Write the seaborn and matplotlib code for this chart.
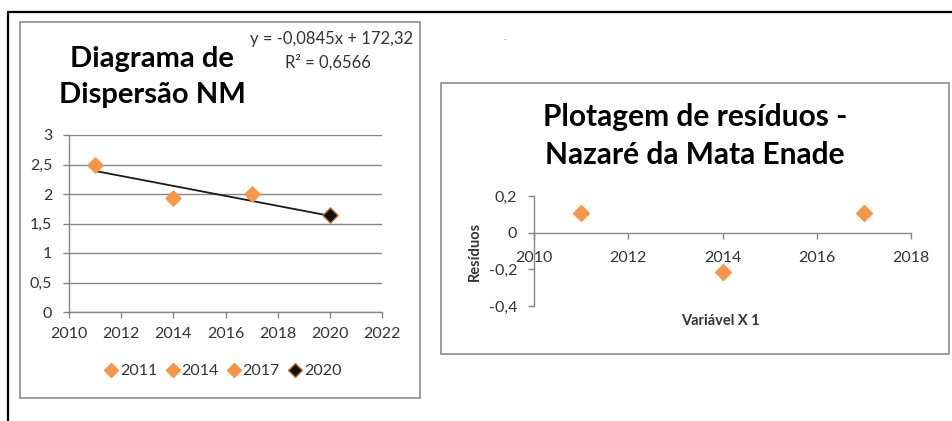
import matplotlib
matplotlib.use("Agg")
import matplotlib.pyplot as plt
from matplotlib.patches import Rectangle
from matplotlib.lines import Line2D
from matplotlib.ticker import FuncFormatter
import seaborn as sns
import pandas as pd
import numpy as np

# ---- data ----
years = [2011, 2014, 2017, 2020]
notas = [2.50, 1.93, 2.00, 1.65]
year_labels = ["2011", "2014", "2017", "2020"]
trend_slope = -0.0845
trend_intercept = 172.32
eq_text = "y = -0,0845x + 172,32"
r2_text = "R² = 0,6566"

res_years = [2011, 2014, 2017]
residuos = [0.105, -0.215, 0.105]

left_xticks = [2010, 2012, 2014, 2016, 2018, 2020, 2022]
left_yticks = [0, 0.5, 1, 1.5, 2, 2.5, 3]
right_xticks = [2010, 2012, 2014, 2016, 2018]
right_yticks = [-0.4, -0.2, 0, 0.2]

title_left = "Diagrama de\nDispersão NM"
title_right = "Plotagem de resíduos -\nNazaré da Mata Enade"
xlabel_right = "Variável X 1"
ylabel_right = "Resíduos"

# ---- style ----
sns.set_style("white")
plt.rcParams["font.family"] = ["Lato", "DejaVu Sans"]
ORANGE = "#F79646"
GRAY = "#868686"
TXT = "#333333"

W, H = 952, 421
fig = plt.figure(figsize=(W / 100, H / 100), dpi=100)

def fx(px):
    return px / W

def fy(py):
    return 1 - py / H

def comma(v, pos):
    return ("%g" % v).replace(".", ",")

# outer black frame lines (top + left)
fig.add_artist(Line2D([fx(8), 1.0], [fy(12), fy(12)], color="black", lw=1.6))
fig.add_artist(Line2D([fx(8), fx(8)], [fy(12), 0.0], color="black", lw=1.6))
# chart boxes
fig.add_artist(Rectangle((fx(20), fy(398)), fx(420) - fx(20), fy(22) - fy(398),
                         fill=False, ec="#8c8c8c", lw=1.2))
fig.add_artist(Rectangle((fx(441), fy(354)), fx(949) - fx(441), fy(83) - fy(354),
                         fill=False, ec="#8c8c8c", lw=1.2))
fig.text(fx(505), fy(37), ".", fontsize=6, color="#555555", ha="center", va="center")

TICK_FS = 11.5

# ---- left chart ----
ax1 = fig.add_axes([fx(69), fy(312), fx(382) - fx(69), fy(135) - fy(312)])
df = pd.DataFrame({"ano": years, "nota": notas, "rot": year_labels})
tx = np.array([years[0], years[-1]], dtype=float)
sns.lineplot(x=tx, y=trend_slope * tx + trend_intercept, ax=ax1, color="#1a1a1a", lw=1.3)
pal = {"2011": ORANGE, "2014": ORANGE, "2017": ORANGE, "2020": "#111111"}
edge = {"2011": ORANGE, "2014": ORANGE, "2017": ORANGE, "2020": "#B8702F"}
for lab in year_labels:
    sub = df[df["rot"] == lab]
    sns.scatterplot(data=sub, x="ano", y="nota", ax=ax1, marker="D", s=60,
                    color=pal[lab], edgecolor=edge[lab], linewidth=1.0, zorder=5)
ax1.set_xlim(2010, 2022)
ax1.set_ylim(0, 3)
ax1.set_xticks(left_xticks)
ax1.set_yticks(left_yticks)
ax1.yaxis.set_major_formatter(FuncFormatter(comma))
ax1.grid(axis="y", color=GRAY, lw=1.0)
ax1.set_axisbelow(True)
for s in ["top", "right"]:
    ax1.spines[s].set_visible(False)
for s in ["left", "bottom"]:
    ax1.spines[s].set_color(GRAY)
    ax1.spines[s].set_linewidth(1.0)
ax1.tick_params(axis="both", colors=GRAY, labelcolor=TXT, labelsize=TICK_FS,
                length=4, width=1.0, direction="out")
ax1.tick_params(axis="y", pad=8, left=True)
ax1.tick_params(axis="x", pad=7, bottom=True)
ax1.set_xlabel("")
ax1.set_ylabel("")
handles = [Line2D([], [], ls="", marker="D", ms=7.5, mfc=pal[l], mec=edge[l]) for l in year_labels]
fig.legend(handles, year_labels, loc="center", bbox_to_anchor=(fx(222), fy(371)), ncol=4,
           frameon=False, fontsize=TICK_FS, handletextpad=0.0, columnspacing=0.4,
           handlelength=1.1, labelcolor=TXT)

fig.text(fx(152), fy(77), title_left, ha="center", va="center", fontsize=21,
         fontweight="bold", color="black", linespacing=1.45)
fig.text(fx(413), fy(39), eq_text, ha="right", va="center", fontsize=12, color=TXT)
fig.text(fx(328), fy(62), r2_text, ha="center", va="center", fontsize=12, color=TXT)

# ---- right chart ----
ax2 = fig.add_axes([fx(534), fy(306), fx(911) - fx(534), fy(196) - fy(306)])
dr = pd.DataFrame({"x": res_years, "r": residuos})
sns.scatterplot(data=dr, x="x", y="r", ax=ax2, marker="D", s=65, color=ORANGE,
                edgecolor=ORANGE, linewidth=1.0, zorder=5)
ax2.set_xlim(2010, 2018)
ax2.set_ylim(-0.4, 0.2)
ax2.set_xticks(right_xticks)
ax2.set_yticks(right_yticks)
ax2.yaxis.set_major_formatter(FuncFormatter(comma))
ax2.spines["bottom"].set_position(("data", 0))
for s in ["top", "right"]:
    ax2.spines[s].set_visible(False)
for s in ["left", "bottom"]:
    ax2.spines[s].set_color(GRAY)
    ax2.spines[s].set_linewidth(1.0)
ax2.tick_params(axis="both", colors=GRAY, labelcolor=TXT, labelsize=TICK_FS,
                length=4, width=1.0, direction="out")
ax2.tick_params(axis="y", pad=8, left=True)
ax2.tick_params(axis="x", pad=9, bottom=True)
ax2.set_xlabel(xlabel_right, fontsize=10.5, fontweight="bold", color=TXT)
ax2.set_ylabel(ylabel_right, fontsize=10.5, fontweight="bold", color=TXT)
ax2.xaxis.set_label_coords((fx(720) - fx(534)) / (fx(911) - fx(534)),
                           (fy(321) - fy(306)) / (fy(196) - fy(306)))
ax2.yaxis.set_label_coords((fx(475) - fx(534)) / (fx(911) - fx(534)),
                           (fy(251) - fy(306)) / (fy(196) - fy(306)))
ax2.xaxis.label.set_va("center")
ax2.yaxis.label.set_va("center")

fig.text(fx(695), fy(136), title_right, ha="center", va="center", fontsize=21.5,
         fontweight="bold", color="black", linespacing=1.45)

fig.savefig("out.png", dpi=100)
